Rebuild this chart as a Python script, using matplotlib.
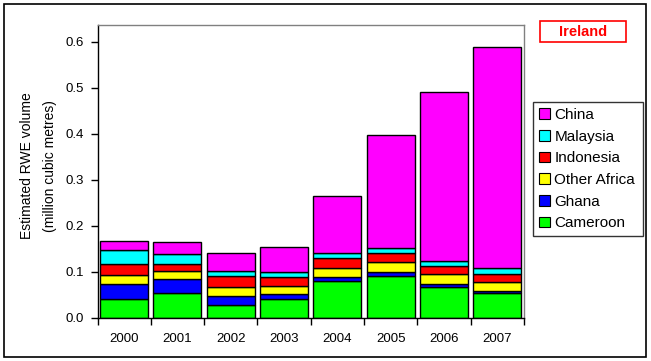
import matplotlib
matplotlib.use("Agg")
import matplotlib.pyplot as plt
from matplotlib.patches import Rectangle, Patch
import numpy as np

plt.rcParams['font.family'] = ['Liberation Sans', 'DejaVu Sans']

years = ['2000', '2001', '2002', '2003', '2004', '2005', '2006', '2007']
series_names = ['Cameroon', 'Ghana', 'Other Africa', 'Indonesia', 'Malaysia', 'China']
cameroon = [0.042, 0.054, 0.029, 0.042, 0.080, 0.092, 0.068, 0.055]
ghana = [0.031, 0.030, 0.018, 0.010, 0.009, 0.007, 0.005, 0.003]
other_africa = [0.020, 0.019, 0.020, 0.017, 0.020, 0.022, 0.022, 0.021]
indonesia = [0.024, 0.014, 0.025, 0.020, 0.022, 0.020, 0.017, 0.016]
malaysia = [0.030, 0.023, 0.011, 0.012, 0.011, 0.012, 0.011, 0.013]
china = [0.020, 0.025, 0.038, 0.053, 0.124, 0.244, 0.368, 0.481]
colors = ['#00FF00', '#0000FF', '#FFFF00', '#FF0000', '#00FFFF', '#FF00FF']

W, H = 651, 361
fig = plt.figure(figsize=(W / 100, H / 100), dpi=100)

def fx(px):
    return px / W

def fy(py):
    return 1 - py / H

ax = fig.add_axes([fx(97.5), fy(318), fx(524) - fx(97.5), fy(24.7) - fy(318)])

data = [cameroon, ghana, other_africa, indonesia, malaysia, china]
x = np.arange(len(years))
bottom = np.zeros(len(years))
handles = []
for name, vals, c in zip(series_names, data, colors):
    ax.bar(x, vals, width=0.9, bottom=bottom, color=c, edgecolor='black', linewidth=1.0, label=name)
    bottom += np.array(vals)
    handles.append(Patch(facecolor=c, edgecolor='black', linewidth=0.8, label=name))

ax.set_xlim(-0.5, len(years) - 0.5)
ax.set_ylim(0, 0.6376)
ax.set_yticks(np.arange(0, 0.61, 0.1))
ax.set_yticklabels([f"{v:.1f}" for v in np.arange(0, 0.61, 0.1)], fontsize=9.5)
ax.set_xticks(x)
ax.set_xticklabels(years, fontsize=9.5)
ax.set_xticks(np.arange(-0.5, len(years), 1.0), minor=True)
ax.tick_params(axis='x', which='major', length=0, pad=11)
ax.tick_params(axis='x', which='minor', length=5, width=1, direction='out')
ax.tick_params(axis='y', length=5, width=1, direction='out', pad=5)

for s in ['top', 'right']:
    ax.spines[s].set_color('#808080')
    ax.spines[s].set_linewidth(1)
for s in ['left', 'bottom']:
    ax.spines[s].set_color('black')
    ax.spines[s].set_linewidth(1)

fig.text(fx(38.5), fy(166), 'Estimated RWE volume\n(million cubic metres)', rotation=90,
         ha='center', va='center', fontsize=10, linespacing=1.85)

leg = fig.legend(handles=handles[::-1], loc='upper left',
                 bbox_to_anchor=(fx(533), fy(241), fx(642.5) - fx(533), fy(102) - fy(241)),
                 mode='expand', fontsize=11, frameon=True, fancybox=False,
                 handlelength=0.7, handleheight=0.7, handletextpad=0.3,
                 borderpad=0.4, labelspacing=0.5, borderaxespad=0)
leg.get_frame().set_edgecolor('black')
leg.get_frame().set_linewidth(1)

# Title box
fig.patches.append(Rectangle((fx(540), fy(42.3)), fx(626.3) - fx(540), fy(21.3) - fy(42.3),
                             transform=fig.transFigure, fill=False, edgecolor='red', linewidth=1.2))
fig.text(fx(583), fy(32), 'Ireland', color='red', fontweight='bold', fontsize=10.5,
         ha='center', va='center')

# Outer border
fig.patches.append(Rectangle((fx(4), fy(357)), fx(646) - fx(4), fy(4) - fy(357),
                             transform=fig.transFigure, fill=False, edgecolor='black', linewidth=1.2))

fig.savefig('out.png', dpi=100)
